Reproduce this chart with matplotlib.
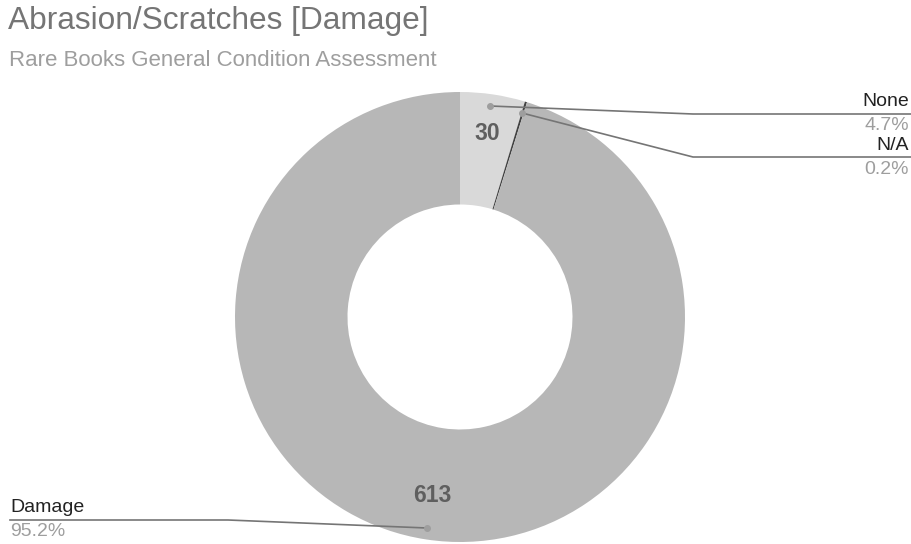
import matplotlib.pyplot as plt

# data
categories = ["None", "N/A", "Damage"]
counts = [30, 1, 613]
colors = ["#d9d9d9", "#424242", "#b7b7b7"]

W, H = 911, 544
plt.rcParams['font.family'] = ['Liberation Sans', 'DejaVu Sans']

fig = plt.figure(figsize=(W / 100, H / 100), dpi=100)
ax = fig.add_axes([0, 0, 1, 1])

cx, cy, r = 460, H - 317, 225
wedges, _ = ax.pie(counts, colors=colors, startangle=90, counterclock=False,
                   center=(cx, cy), radius=r, frame=True,
                   wedgeprops=dict(width=r * 0.5, linewidth=0))
ax.set_xlim(0, W)
ax.set_ylim(0, H)
ax.set_aspect('equal')
ax.set_axis_off()

total = sum(counts)
pcts = [f"{c / total * 100:.1f}%" for c in counts]

def py(y):
    return H - y

# value labels inside the ring
ax.text(487, py(134), str(counts[0]), ha='center', va='center',
        fontsize=16.5, fontweight='bold', color='#5f5f5f')
ax.text(432, py(496), str(counts[2]), ha='center', va='center',
        fontsize=16.5, fontweight='bold', color='#5f5f5f')

# leader lines
lc = '#757575'
ax.plot([490, 693, 911], [py(106), py(114), py(114)], color=lc, lw=1.2)
ax.plot([490], [py(106)], 'o', color='#9e9e9e', ms=4)
ax.plot([522, 693, 911], [py(113), py(157), py(157)], color=lc, lw=1.2)
ax.plot([522], [py(113)], 'o', color='#9e9e9e', ms=4)
ax.plot([427, 228, 10], [py(528), py(520), py(520)], color=lc, lw=1.2)
ax.plot([427], [py(528)], 'o', color='#9e9e9e', ms=4)

# outside labels
fs = 14
ax.text(909, py(102), categories[0], ha='right', va='center', fontsize=fs, color='#222222')
ax.text(909, py(126), pcts[0], ha='right', va='center', fontsize=fs, color='#9e9e9e')
ax.text(909, py(145), categories[1], ha='right', va='center', fontsize=fs, color='#222222')
ax.text(909, py(169), pcts[1], ha='right', va='center', fontsize=fs, color='#9e9e9e')
ax.text(10, py(507), categories[2], ha='left', va='center', fontsize=fs, color='#222222')
ax.text(10, py(531), pcts[2], ha='left', va='center', fontsize=fs, color='#9e9e9e')

# titles
ax.text(8, py(21), "Abrasion/Scratches [Damage]", ha='left', va='center',
        fontsize=22.8, color='#757575')
ax.text(9, py(61), "Rare Books General Condition Assessment", ha='left', va='center',
        fontsize=16, color='#9e9e9e')

fig.savefig("out.png", dpi=100)
